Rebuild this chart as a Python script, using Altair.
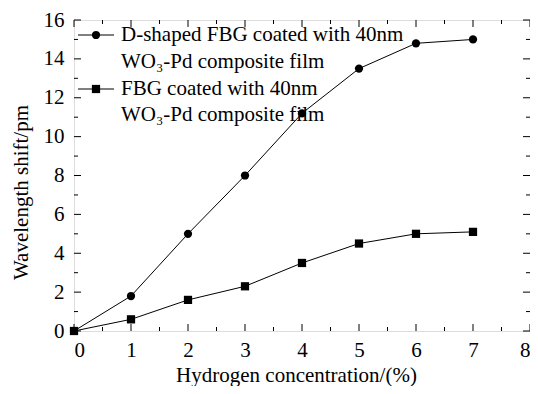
import altair as alt
import pandas as pd

# ---- data ----
conc = [0, 1, 2, 3, 4, 5, 6, 7]
dshaped = [0, 1.8, 5.0, 8.0, 11.2, 13.5, 14.8, 15.0]
plain = [0, 0.6, 1.6, 2.3, 3.5, 4.5, 5.0, 5.1]
series_names = ["D-shaped FBG coated with 40nm WO3-Pd composite film",
                "FBG coated with 40nm WO3-Pd composite film"]
legend_lines = ["D-shaped FBG coated with 40nm", "WO\u2083-Pd composite film",
                "FBG coated with 40nm", "WO\u2083-Pd composite film"]
x_major = [0, 1, 2, 3, 4, 5, 6, 7, 8]
x_minor = [0.5, 1.5, 2.5, 3.5, 4.5, 5.5, 6.5, 7.5]
y_major = [0, 2, 4, 6, 8, 10, 12, 14, 16]
y_minor = [1, 3, 5, 7, 9, 11, 13, 15]
x_title = "Hydrogen concentration/(%)"
y_title = "Wavelength shift/pm"

W, H = 456, 311
FONT = "Times New Roman, Tinos, Liberation Serif, DejaVu Serif, serif"
FS = 21

df = pd.DataFrame({
    "x": conc * 2,
    "y": dshaped + plain,
    "s": [series_names[0]] * len(conc) + [series_names[1]] * len(conc),
})

xs = alt.Scale(domain=[0, 8], nice=False, zero=False)
ys = alt.Scale(domain=[0, 16], nice=False, zero=False)
shape_scale = alt.Scale(domain=series_names, range=["circle", "square"])

xaxis = alt.Axis(
    values=x_major, title=x_title, ticks=False, domain=False, grid=False,
    labelFont=FONT, labelFontSize=FS, labelColor="black", labelPadding=8,
    titleFont=FONT, titleFontSize=FS, titleFontWeight="normal", titleColor="black",
    titleBaseline="alphabetic", titleX=222, titleY=50)
yaxis = alt.Axis(
    values=y_major, title=y_title, ticks=False, domain=False, grid=False,
    labelFont=FONT, labelFontSize=FS, labelColor="black", labelPadding=10,
    titleFont=FONT, titleFontSize=FS, titleFontWeight="normal", titleColor="black",
    titlePadding=12, titleY=172)


def X(field):
    return alt.X(field, scale=xs, axis=xaxis)


def Y(field):
    return alt.Y(field, scale=ys, axis=yaxis)


lines = alt.Chart(df).mark_line(color="black", strokeWidth=1).encode(
    x=X("x:Q"), y=Y("y:Q"), detail="s:N")

points = alt.Chart(df).mark_point(filled=True, color="black", size=68, opacity=1).encode(
    x=X("x:Q"), y=Y("y:Q"),
    shape=alt.Shape("s:N", scale=shape_scale, legend=None),
)


def xticks(vals, length):
    d = pd.DataFrame({"x": vals})
    bot = alt.Chart(d).mark_rule(color="black", strokeWidth=1).encode(
        x=X("x:Q"), y=alt.value(H), y2=alt.value(H - length))
    top = alt.Chart(d).mark_rule(color="black", strokeWidth=1).encode(
        x=X("x:Q"), y=alt.value(0), y2=alt.value(length))
    return [bot, top]


def yticks(vals, length):
    d = pd.DataFrame({"y": vals})
    left = alt.Chart(d).mark_rule(color="black", strokeWidth=1).encode(
        y=Y("y:Q"), x=alt.value(0), x2=alt.value(length))
    right = alt.Chart(d).mark_rule(color="black", strokeWidth=1).encode(
        y=Y("y:Q"), x=alt.value(W), x2=alt.value(W - length))
    return [left, right]


tick_layers = xticks(x_major, 7) + xticks(x_minor, 4) + yticks(y_major, 7) + yticks(y_minor, 4)

one = alt.Data(values=[{"a": 1}])
legend_layers = []
for ypos, shp in [(15, "circle"), (69, "square")]:
    legend_layers.append(alt.Chart(one).mark_rule(color="black", strokeWidth=1).encode(
        x=alt.value(4), x2=alt.value(40), y=alt.value(ypos)))
    legend_layers.append(alt.Chart(one).mark_point(
        filled=True, color="black", size=68, opacity=1, shape=shp).encode(
        x=alt.value(22), y=alt.value(ypos)))
for txt, ypos in zip(legend_lines, [15, 42, 69, 95]):
    legend_layers.append(alt.Chart(one).mark_text(
        text=txt, align="left", baseline="middle", font=FONT, fontSize=FS, color="black").encode(
        x=alt.value(47), y=alt.value(ypos)))

chart = alt.layer(lines, points, *tick_layers, *legend_layers).properties(
    width=W, height=H,
    autosize=alt.AutoSizeParams(type="none"),
    padding={"left": 66, "top": 12, "right": 0, "bottom": 55},
).configure_view(stroke="black", strokeWidth=1.5).configure(background="white")

chart.save("out.html", embed_options={"renderer": "svg", "actions": False})
